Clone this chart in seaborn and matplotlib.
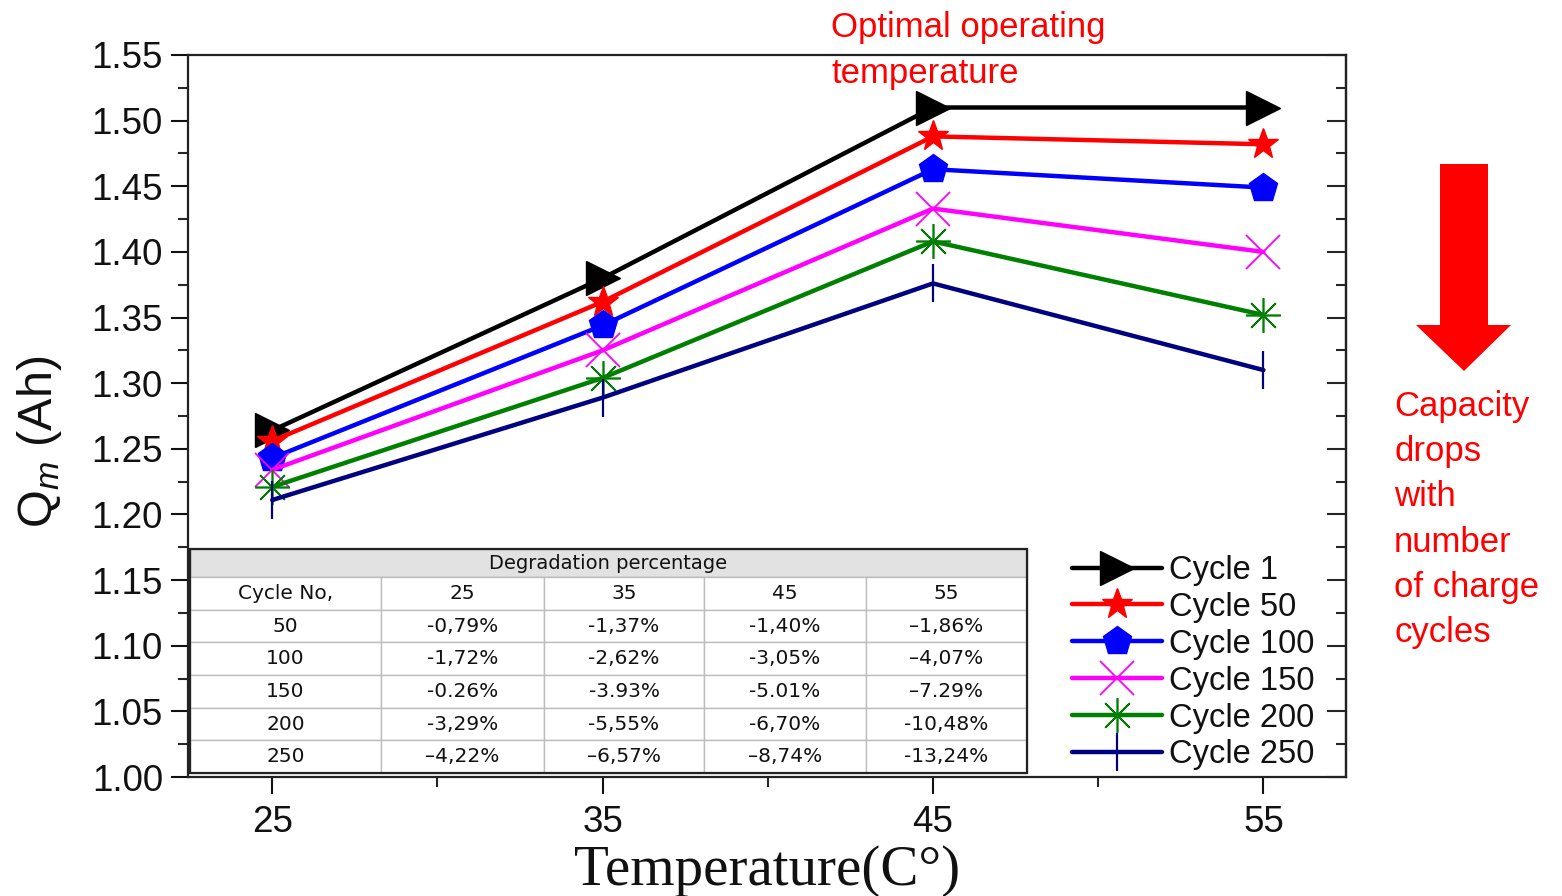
import numpy as np
import pandas as pd
import matplotlib
matplotlib.use("Agg")
import matplotlib.pyplot as plt
import seaborn as sns
from matplotlib.ticker import MultipleLocator, FormatStrFormatter
from matplotlib.patches import Polygon, Rectangle

# ---- data -------------------------------------------------------------
temperatures = [25, 35, 45, 55]
cycle_labels = ["Cycle 1", "Cycle 50", "Cycle 100", "Cycle 150", "Cycle 200", "Cycle 250"]
cycle_1 = [1.264, 1.380, 1.510, 1.510]
cycle_50 = [1.256, 1.362, 1.488, 1.482]
cycle_100 = [1.243, 1.344, 1.463, 1.449]
cycle_150 = [1.234, 1.325, 1.433, 1.400]
cycle_200 = [1.221, 1.304, 1.408, 1.352]
cycle_250 = [1.211, 1.289, 1.376, 1.310]

table_header = ["Cycle No,", "25", "35", "45", "55"]
table_cycles = ["50", "100", "150", "200", "250"]
deg_25 = ["-0,79%", "-1,72%", "-0.26%", "-3,29%", "\u20134,22%"]
deg_35 = ["-1,37%", "-2,62%", "-3.93%", "-5,55%", "\u20136,57%"]
deg_45 = ["-1,40%", "-3,05%", "-5.01%", "-6,70%", "\u20138,74%"]
deg_55 = ["\u20131,86%", "\u20134,07%", "\u20137.29%", "-10,48%", "-13,24%"]

# ---- styling ----------------------------------------------------------
sns.set_theme(style="ticks")
plt.rcParams["font.family"] = ["Liberation Sans", "DejaVu Sans"]
plt.rcParams["mathtext.fontset"] = "custom"
plt.rcParams["mathtext.rm"] = "Liberation Sans"
plt.rcParams["mathtext.it"] = "Liberation Sans:italic"

series = [cycle_1, cycle_50, cycle_100, cycle_150, cycle_200, cycle_250]
colors = ["#000000", "#ff0000", "#0000ff", "#ff00ff", "#008000", "#000080"]
markers = [">", "*", "p", "x", (8, 2, 0), "|"]
msizes = [25, 23, 21, 25, 25, 27]
mews = [1.0, 1.0, 1.0, 1.3, 1.2, 1.6]

fig = plt.figure(figsize=(15.62, 8.96), dpi=100)
ax = fig.add_axes([188 / 1562, 1 - 777 / 896, (1346 - 188) / 1562, (777 - 55) / 896])

for vals, lab, col, mk, ms, mw in zip(series, cycle_labels, colors, markers, msizes, mews):
    df = pd.DataFrame({"Temperature": temperatures, "Qm": vals})
    sns.lineplot(data=df, x="Temperature", y="Qm", ax=ax, color=col, lw=3.2,
                 marker=mk, markersize=ms, markeredgewidth=mw,
                 markeredgecolor=col, markerfacecolor=col, label=lab, zorder=3)

ax.set_xlim(22.45, 57.5)
ax.set_ylim(1.0, 1.55)
ax.set_xticks(temperatures)
ax.xaxis.set_minor_locator(MultipleLocator(5))
ax.yaxis.set_major_locator(MultipleLocator(0.05))
ax.yaxis.set_minor_locator(MultipleLocator(0.025))
ax.yaxis.set_major_formatter(FormatStrFormatter("%.2f"))
ax.tick_params(axis="both", which="major", labelsize=26.5, length=12, width=1.5,
               direction="out", colors="#111111")
ax.tick_params(axis="both", which="minor", length=7, width=1.5, direction="out")
ax.tick_params(axis="x", pad=8)
ax.tick_params(axis="y", pad=6)
for sp in ax.spines.values():
    sp.set_linewidth(1.6)
    sp.set_color("#222222")

# inward ticks on the right spine
sec = ax.secondary_yaxis("right")
sec.yaxis.set_major_locator(MultipleLocator(0.05))
sec.yaxis.set_minor_locator(MultipleLocator(0.025))
sec.tick_params(which="major", direction="in", length=14, width=1.5, labelright=False)
sec.tick_params(which="minor", direction="in", length=7, width=1.5)
sec.spines["right"].set_linewidth(1.6)

ax.set_xlabel("Temperature(C\u00b0)", fontsize=41, family="Liberation Serif",
              labelpad=4, color="#111111")
ax.set_ylabel("")
fig.text(40 / 1562, 1 - 442 / 896, "Q$_m$ (Ah)", rotation=90, fontsize=35,
         ha="center", va="center", color="#111111")

# ---- legend -------------------------------------------------------------
leg = ax.legend(loc="upper left", bbox_to_anchor=(1072 / 1562, 1 - 555 / 896),
                bbox_transform=fig.transFigure, frameon=False, fontsize=23.5,
                handlelength=2.75, handletextpad=0.22, labelspacing=0.18,
                borderpad=0.0, borderaxespad=0.0)
for t in leg.get_texts():
    t.set_color("#111111")

# ---- degradation table ------------------------------------------------
x0 = (190 - 188) / 1158
x1 = (1027 - 188) / 1158
y_bot = (777 - 773) / 722
y_mid = (777 - 577) / 722
y_top = (777 - 549) / 722

col_w = np.array([191, 163, 160, 162, 161], dtype=float)
col_w = col_w / col_w.sum()

head = ax.table(cellText=[["Degradation percentage"]], cellLoc="center",
                bbox=[x0, y_mid, x1 - x0, y_top - y_mid])
head.auto_set_font_size(False)
for cell in head.get_celld().values():
    cell.set_facecolor("#e2e2e2")
    cell.set_edgecolor("#9a9a9a")
    cell.set_linewidth(1.0)
    cell.get_text().set_fontsize(14)
    cell.get_text().set_family("DejaVu Sans")
    cell.get_text().set_color("#111111")

rows = [table_header] + [[c, a, b, d, e] for c, a, b, d, e in
                         zip(table_cycles, deg_25, deg_35, deg_45, deg_55)]
tab = ax.table(cellText=rows, cellLoc="center", colWidths=list(col_w),
               bbox=[x0, y_bot, x1 - x0, y_mid - y_bot])
tab.auto_set_font_size(False)
for (r, c), cell in tab.get_celld().items():
    cell.set_facecolor("white")
    cell.set_edgecolor("#bdbdbd")
    cell.set_linewidth(1.0)
    cell.get_text().set_fontsize(14.5)
    cell.get_text().set_family("DejaVu Sans")
    cell.get_text().set_color("#111111")

ax.add_patch(Rectangle((x0, y_bot), x1 - x0, y_top - y_bot, transform=ax.transAxes,
                       fill=False, edgecolor="#222222", lw=1.6, zorder=10,
                       clip_on=False))

# ---- annotations --------------------------------------------------------
fig.text(831 / 1562, 1 - 11 / 896, "Optimal operating\ntemperature", color="red",
         fontsize=25, ha="left", va="top", linespacing=1.5)
fig.text(1394 / 1562, 1 - 390 / 896,
         "Capacity\ndrops\nwith\nnumber\nof charge\ncycles",
         color="red", fontsize=25, ha="left", va="top", linespacing=1.47)

arrow_px = [(1440, 164), (1488, 164), (1488, 325), (1511, 325), (1464, 371),
            (1416, 325), (1440, 325)]
fig.patches.append(Polygon([(px / 1562, 1 - py / 896) for px, py in arrow_px],
                           closed=True, facecolor="#ff0000", edgecolor="none",
                           transform=fig.transFigure, figure=fig))

fig.savefig("out.png", dpi=100, facecolor="white")
